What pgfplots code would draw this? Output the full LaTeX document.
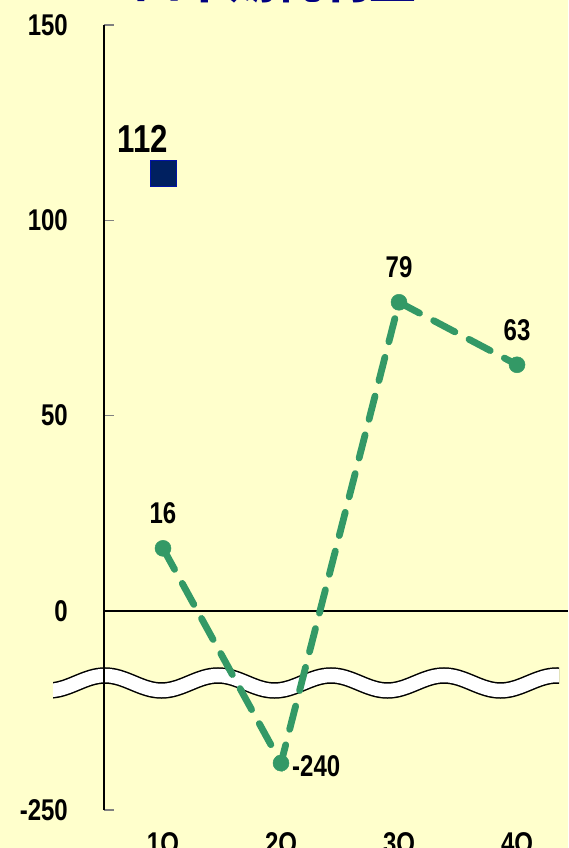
\documentclass[border=0pt]{standalone}
\usepackage{pgfplots}
\pgfplotsset{compat=1.18}
\usepackage{fontspec}
\setmainfont{Liberation Sans}[FakeStretch=0.8]
\newfontfamily\cjk{Noto Sans CJK JP}
\definecolor{bgyellow}{HTML}{FFFFCC}
\definecolor{profitgreen}{HTML}{339966}
\definecolor{navybox}{HTML}{002060}
\definecolor{titlenavy}{HTML}{000080}
\tikzset{lbl/.style={font=\bfseries\fontsize{30}{30}\selectfont, text=black, inner sep=0pt}}

\begin{document}
\begin{tikzpicture}
\fill[bgyellow] (0,0) rectangle (568pt,848pt);
% title, cut by the top edge
\node[font=\cjk\bfseries\fontsize{47}{47}\selectfont, text=titlenavy, anchor=base, inner sep=0pt]
  at (275pt,849pt) {四半期純利益};
% axis break band
\def\wave{(48.5,157.5) cos (76.75,165) sin (105,172.5) cos (133.25,165) sin (161.5,157.5)
  cos (189.75,165) sin (218,172.5) cos (246.25,165) sin (274.5,157.5)
  cos (302.75,165) sin (331,172.5) cos (359.25,165) sin (387.5,157.5)
  cos (415.75,165) sin (444,172.5) cos (472.25,165) sin (500.5,157.5)
  cos (528.75,165) sin (557,172.5) cos (585.25,165)}
\begin{scope}[x=1pt,y=1pt]
  \clip (53,0) rectangle (559,848);
  \draw[line width=16.5pt, black] \wave;
  \draw[line width=13.5pt, white] \wave;
\end{scope}

\begin{axis}[
  at={(104pt,38pt)}, anchor=south west,
  scale only axis, width=464pt, height=785pt,
  xmin=0.5, xmax=4.432, ymin=-51, ymax=150,
  axis y line*=left, axis x line*=bottom,
  x axis line style={draw=none},
  y axis line style={-, black, line width=1.4pt},
  xtick={1,2,3,4}, xticklabels={1Q,2Q,3Q,4Q},
  major x tick style={draw=none},
  ytick={-51,0,50,100,150}, yticklabels={-250,0,50,100,150},
  tick align=inside, major tick length=10pt,
  ytick style={gray, line width=1.5pt},
  yticklabel style={font=\bfseries\fontsize{30}{30}\selectfont, anchor=east, inner sep=0pt, xshift=-36pt},
  xticklabel style={font=\bfseries\fontsize{30}{30}\selectfont, anchor=north, inner sep=0pt, yshift=-22pt},
  clip=false,
]
\draw[black, line width=1.4pt] (axis cs:0.5,0) -- (axis cs:4.432,0);

% quarterly net profit (2Q is drawn below the axis break)
\addplot[profitgreen, line width=6.8pt, dash pattern=on 24pt off 16pt, line cap=round,
  mark=*, mark size=8pt, mark options={solid, fill=profitgreen, draw=profitgreen, line width=0.5pt}]
  coordinates {(1,16) (2,-39) (3,79) (4,63)};

% value labels
\addplot[draw=none, mark=none, nodes near coords, point meta=explicit symbolic,
  every node near coord/.append style={lbl, anchor=south, yshift=24pt}]
  coordinates {(1,16) [16] (3,79) [79] (4,63) [63]};
\addplot[draw=none, mark=none, nodes near coords, point meta=explicit symbolic,
  every node near coord/.append style={lbl, anchor=west, xshift=11pt, yshift=-3pt}]
  coordinates {(2,-39) [-240]};

\addplot[only marks, mark=square*, mark size=13pt,
  mark options={fill=navybox, draw=blue!45!navybox, line width=1pt},
  nodes near coords, point meta=explicit symbolic,
  every node near coord/.append style={font=\bfseries\fontsize{39}{39}\selectfont, text=black, anchor=center, inner sep=0pt, xshift=-20pt, yshift=35pt}]
  coordinates {(1,112) [112]};
\end{axis}
\pgfresetboundingbox
\useasboundingbox (0,0) rectangle (568pt,848pt);
\end{tikzpicture}
\end{document}
